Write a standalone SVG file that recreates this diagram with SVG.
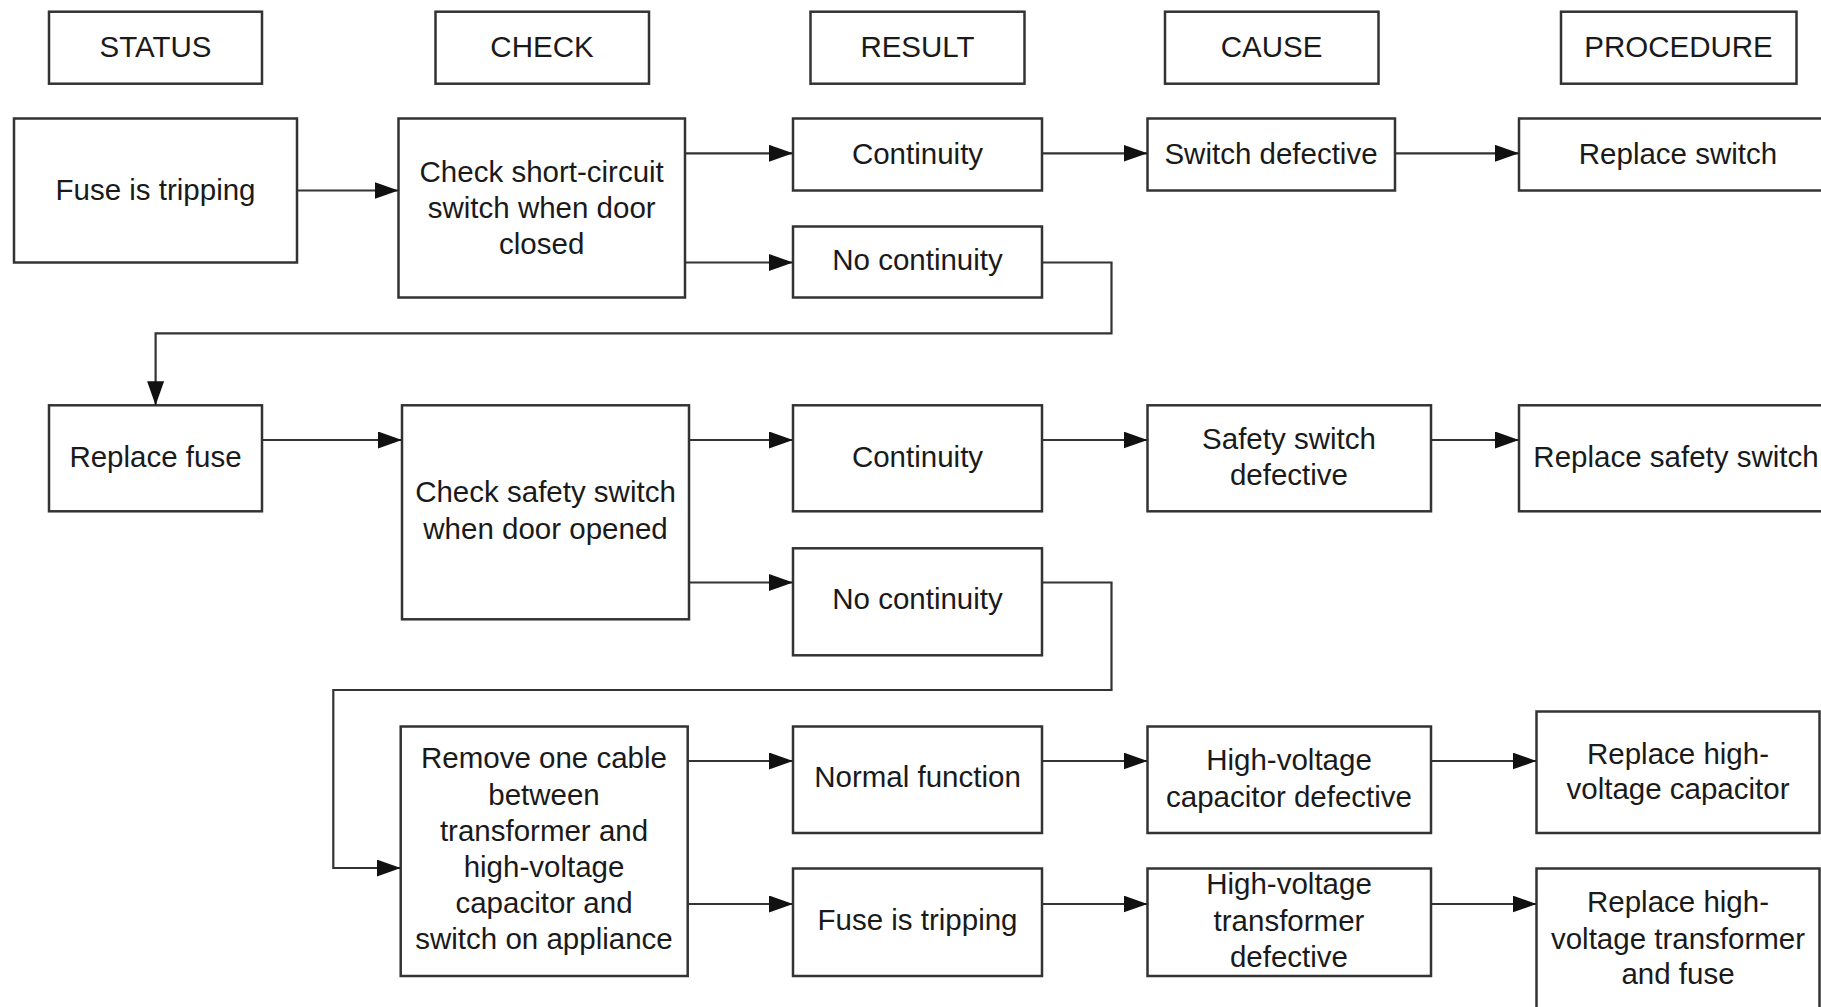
<svg xmlns="http://www.w3.org/2000/svg" width="1821" height="1007" viewBox="0 0 1821 1007">
<defs>
<style>
.box{fill:#fff;stroke:#333;stroke-width:2.5}
.t{font-family:"Liberation Sans",Arial,sans-serif;font-size:29.5px;fill:#1a1a1a;text-anchor:middle}
.c{fill:none;stroke:#333;stroke-width:2.2}
</style>
<marker id="ah" markerUnits="userSpaceOnUse" markerWidth="26" markerHeight="18" refX="24" refY="8.5" orient="auto">
<path d="M0,0 L24,8.5 L0,17 Z" fill="#111"/>
</marker>
</defs>
<rect width="1821" height="1007" fill="#fff"/>

<g id="h_status"><rect class="box" x="49" y="11.7" width="213" height="72"/><text class="t" x="155.5" y="57">STATUS</text></g>
<g id="h_check"><rect class="box" x="435.5" y="11.7" width="213.5" height="72"/><text class="t" x="542" y="57">CHECK</text></g>
<g id="h_result"><rect class="box" x="810.5" y="11.7" width="214" height="72"/><text class="t" x="917.5" y="57">RESULT</text></g>
<g id="h_cause"><rect class="box" x="1165" y="11.7" width="213.5" height="72"/><text class="t" x="1271.5" y="57">CAUSE</text></g>
<g id="h_procedure"><rect class="box" x="1561" y="11.7" width="235.5" height="72"/><text class="t" x="1678.5" y="57">PROCEDURE</text></g>

<g id="n_fuse1"><rect class="box" x="14" y="118.5" width="283" height="144"/><text class="t" x="155.5" y="200">Fuse is tripping</text></g>
<g id="n_check1"><rect class="box" x="398.5" y="118.5" width="286.5" height="179"/><text class="t" x="541.7" y="181.5">Check short-circuit</text><text class="t" x="541.7" y="218">switch when door</text><text class="t" x="541.7" y="254">closed</text></g>
<g id="n_cont1"><rect class="box" x="793" y="118.5" width="249" height="72"/><text class="t" x="917.5" y="163.5">Continuity</text></g>
<g id="n_nocont1"><rect class="box" x="793" y="226.5" width="249" height="71"/><text class="t" x="917.5" y="270">No continuity</text></g>
<g id="n_swdef"><rect class="box" x="1147.5" y="118.5" width="247.5" height="72"/><text class="t" x="1271" y="163.5">Switch defective</text></g>
<g id="n_repsw"><rect class="box" x="1519" y="118.5" width="320" height="72"/><text class="t" x="1678" y="163.5">Replace switch</text></g>

<g id="n_repfuse"><rect class="box" x="49" y="405.3" width="213" height="106"/><text class="t" x="155.5" y="467">Replace fuse</text></g>
<g id="n_check2"><rect class="box" x="402" y="405.3" width="287" height="214"/><text class="t" x="545.5" y="502">Check safety switch</text><text class="t" x="545.5" y="538.5">when door opened</text></g>
<g id="n_cont2"><rect class="box" x="793" y="405.3" width="249" height="106"/><text class="t" x="917.5" y="467">Continuity</text></g>
<g id="n_nocont2"><rect class="box" x="793" y="548.3" width="249" height="107"/><text class="t" x="917.5" y="608.5">No continuity</text></g>
<g id="n_safedef"><rect class="box" x="1147.5" y="405.3" width="283.5" height="106"/><text class="t" x="1289" y="448.5">Safety switch</text><text class="t" x="1289" y="484.5">defective</text></g>
<g id="n_repsafe"><rect class="box" x="1519" y="405.3" width="320" height="106"/><text class="t" x="1676" y="467">Replace safety switch</text></g>

<g id="n_remove"><rect class="box" x="400.7" y="726.5" width="287" height="249.5"/><text class="t" x="544" y="768.3">Remove one cable</text><text class="t" x="544" y="804.5">between</text><text class="t" x="544" y="840.7">transformer and</text><text class="t" x="544" y="876.9">high-voltage</text><text class="t" x="544" y="913.1">capacitor and</text><text class="t" x="544" y="949.3">switch on appliance</text></g>
<g id="n_normal"><rect class="box" x="793" y="726.5" width="249" height="106.5"/><text class="t" x="917.5" y="787">Normal function</text></g>
<g id="n_fuse3"><rect class="box" x="793" y="868.5" width="249" height="107.5"/><text class="t" x="917.5" y="930">Fuse is tripping</text></g>
<g id="n_hvcap"><rect class="box" x="1147.5" y="726.5" width="283.5" height="106.5"/><text class="t" x="1289" y="770">High-voltage</text><text class="t" x="1289" y="806.5">capacitor defective</text></g>
<g id="n_hvtrans"><rect class="box" x="1147.5" y="868.5" width="283.5" height="107.5"/><text class="t" x="1289" y="894">High-voltage</text><text class="t" x="1289" y="930.5">transformer</text><text class="t" x="1289" y="967">defective</text></g>
<g id="n_rephvcap"><rect class="box" x="1536.5" y="711.5" width="283" height="121.5"/><text class="t" x="1678" y="763.5">Replace high-</text><text class="t" x="1678" y="799">voltage capacitor</text></g>
<g id="n_rephvtrans"><rect class="box" x="1536.5" y="868.5" width="283" height="160"/><text class="t" x="1678" y="912">Replace high-</text><text class="t" x="1678" y="948.5">voltage transformer</text><text class="t" x="1678" y="984">and fuse</text></g>

<g id="connectors">
<path class="c" d="M297,190.5 H398.5" marker-end="url(#ah)"/>
<path class="c" d="M685,153.3 H793" marker-end="url(#ah)"/>
<path class="c" d="M685,262.5 H793" marker-end="url(#ah)"/>
<path class="c" d="M1042,153.3 H1147.5" marker-end="url(#ah)"/>
<path class="c" d="M1395,153.3 H1519" marker-end="url(#ah)"/>
<path class="c" d="M1042,262.5 H1111.5 V333.3 H155.6 V405.3" marker-end="url(#ah)"/>
<path class="c" d="M262.5,440 H402" marker-end="url(#ah)"/>
<path class="c" d="M689,440 H793" marker-end="url(#ah)"/>
<path class="c" d="M1042,440 H1147.5" marker-end="url(#ah)"/>
<path class="c" d="M1431,440 H1519" marker-end="url(#ah)"/>
<path class="c" d="M689,582.5 H793" marker-end="url(#ah)"/>
<path class="c" d="M1042,582.5 H1111.5 V690 H333.3 V868 H400.7" marker-end="url(#ah)"/>
<path class="c" d="M688,761 H793" marker-end="url(#ah)"/>
<path class="c" d="M1042,761 H1147.5" marker-end="url(#ah)"/>
<path class="c" d="M1431,761 H1536.5" marker-end="url(#ah)"/>
<path class="c" d="M688,904 H793" marker-end="url(#ah)"/>
<path class="c" d="M1042,904 H1147.5" marker-end="url(#ah)"/>
<path class="c" d="M1431,904 H1536.5" marker-end="url(#ah)"/>
</g>
</svg>
